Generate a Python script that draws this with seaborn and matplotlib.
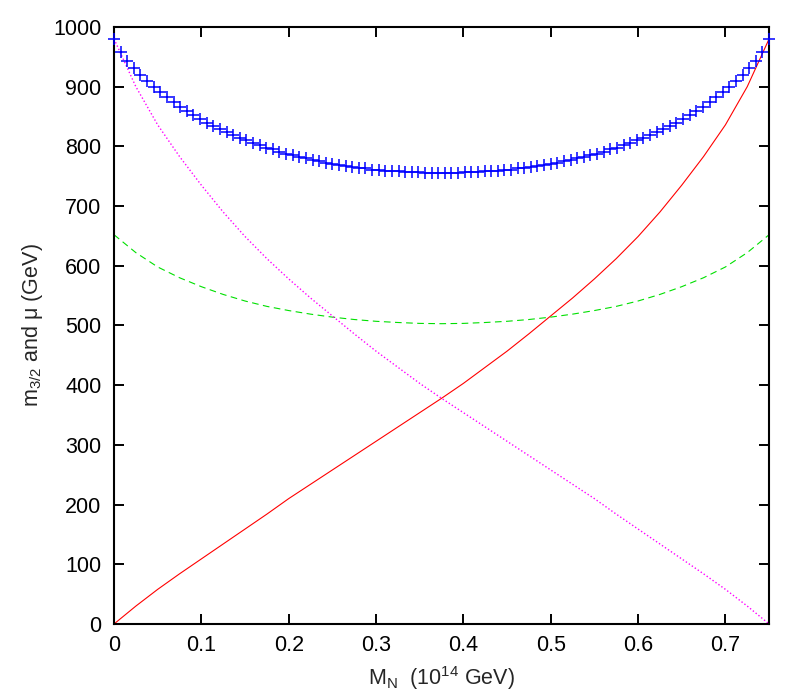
import numpy as np
import seaborn as sns
import matplotlib.pyplot as plt

# curve samples (x step 0.025)
x_line = np.linspace(0, 0.75, 31)
red_vals = [0, 30, 58, 84, 109, 134, 159, 184, 210, 234, 258, 282, 306, 330, 354, 378,
            403, 430, 457, 486, 516, 546, 578, 612, 649, 690, 735, 783, 836, 900, 980]
magenta_vals = [980, 900, 836, 783, 735, 690, 649, 612, 578, 546, 516, 486, 457, 430, 403, 378,
                354, 330, 306, 282, 258, 234, 210, 184, 159, 134, 109, 84, 58, 30, 0]
green_vals = [652, 622, 598, 580, 565, 552, 541, 532, 525, 519, 514, 510, 507, 505, 503.5, 503,
              503.5, 505, 507, 510, 514, 519, 525, 532, 541, 552, 565, 580, 598, 622, 652]

# blue crosses, 100 samples
x_pts = np.linspace(0, 0.75, 100)
blue_vals = [980, 958, 943, 931, 920, 910, 900, 891, 882, 874,
             866, 859, 852, 846, 840, 834, 829, 824, 819, 814,
             810, 806, 802, 798, 795, 791, 788, 785, 782, 780,
             777, 775, 773, 771, 769, 767, 765, 764, 763, 761,
             760, 759, 758.5, 758, 757.5, 757, 756.5, 756, 756, 756,
             756, 756, 756, 756.5, 757, 757.5, 758, 758.5, 759, 760,
             761, 763, 764, 765, 767, 769, 771, 773, 775, 777,
             780, 782, 785, 788, 791, 795, 798, 802, 806, 810,
             814, 819, 824, 829, 834, 840, 846, 852, 859, 866,
             874, 882, 891, 900, 910, 920, 931, 943, 958, 980]

x_ticks = [0, 0.1, 0.2, 0.3, 0.4, 0.5, 0.6, 0.7]
x_ticklabels = ["0", "0.1", "0.2", "0.3", "0.4", "0.5", "0.6", "0.7"]
y_ticks = list(range(0, 1001, 100))

sns.set_theme(style="ticks")
plt.rcParams['font.family'] = ['Liberation Sans', 'DejaVu Sans']
plt.rcParams['mathtext.fontset'] = 'custom'
plt.rcParams['mathtext.rm'] = 'Liberation Sans'
plt.rcParams['mathtext.it'] = 'Liberation Sans'

fig = plt.figure(figsize=(8.07, 6.92), dpi=100)
ax = fig.add_axes([0.1413, 0.0983, 0.8117, 0.8627])

sns.lineplot(x=x_line, y=red_vals, color="#ff0000", linewidth=0.8, ax=ax)
sns.lineplot(x=x_line, y=green_vals, color="#00e000", linewidth=0.8,
             linestyle=(0, (6, 4)), ax=ax)
sns.lineplot(x=x_line, y=magenta_vals, color="#ff00ff", linewidth=1.0,
             linestyle=(0, (1, 1.6)), ax=ax)
sns.scatterplot(x=x_pts, y=blue_vals, marker="+", color="#0000ff", s=85,
                linewidth=1.1, clip_on=False, zorder=5, ax=ax)

ax.set_xlim(0, 0.75)
ax.set_ylim(0, 1000)
ax.set_xticks(x_ticks)
ax.set_xticklabels(x_ticklabels)
ax.set_yticks(y_ticks)
ax.tick_params(direction="in", length=7, width=1.4, labelsize=15.5,
               top=True, right=True, colors="black")
ax.tick_params(axis="x", pad=8)
ax.tick_params(axis="y", pad=9)
for sp in ax.spines.values():
    sp.set_visible(True)
    sp.set_linewidth(1.5)
    sp.set_color("black")

ax.set_xlabel(r"M$_\mathrm{N}$  (10$^{14}$ GeV)", fontsize=15.5, labelpad=6)
ax.set_ylabel(r"m$_{3/2}$ and μ (GeV)", fontsize=15.5, labelpad=6)

fig.savefig("out.png", dpi=100)
